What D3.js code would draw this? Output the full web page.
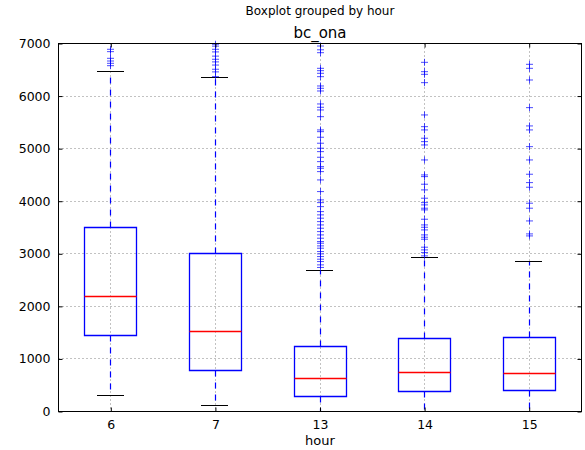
<!DOCTYPE html>
<html>
<head>
<meta charset="utf-8">
<script src="https://cdn.jsdelivr.net/npm/d3@7"></script>
<style>
  html, body { margin: 0; padding: 0; background: #fff; }
  svg { display: block; }
  text { font-family: "DejaVu Sans", sans-serif; fill: #000; }
</style>
</head>
<body>
<svg id="chart" width="585" height="450"></svg>
<script>
// Groups (hour of day)
const hours = ["6", "7", "13", "14", "15"];

// Box statistics per hour
const whiskerLow  = [298, 108, 0, 0, 0];
const q1          = [1452, 787, 279, 372, 396];
const medians     = [2186, 1521, 635, 749, 730];
const q3          = [3506, 3002, 1230, 1388, 1407];
const whiskerHigh = [6458, 6350, 2681, 2922, 2852];

// Outliers above the upper whisker, per hour
const fliers6  = [6890, 6845, 6718, 6667, 6623, 6578];
const fliers7  = [6986, 6950, 6890, 6840, 6760, 6700, 6650, 6590, 6510, 6460, 6370];
const fliers13 = [6952, 6880, 6825, 6528, 6483, 6433, 6369, 6192, 6148, 6097, 5850, 5787, 5736, 5608,
                  5356, 5323, 5217, 5103, 5008, 4943, 4836, 4753, 4658, 4627, 4563, 4405, 4183, 4025,
                  3973, 3897, 3802, 3740, 3677, 3612, 3549, 3486, 3422, 3359, 3296, 3232, 3201, 3150,
                  3106, 3042, 2998, 2947, 2897, 2852, 2789, 2740];
const fliers14 = [6642, 6464, 6414, 6255, 5641, 5418, 5356, 5198, 5133, 5070, 4785, 4500, 4468, 4323,
                  4215, 4057, 3973, 3930, 3867, 3835, 3657, 3549, 3505, 3454, 3359, 3315, 3277, 3125,
                  3074, 3023, 2960];
const fliers15 = [6604, 6528, 6306, 5780, 5432, 5356, 5038, 4785, 4513, 4354, 4266, 3962, 3867, 3625,
                  3378, 3340];
const fliers = [fliers6, fliers7, fliers13, fliers14, fliers15];

const yTicks = [0, 1000, 2000, 3000, 4000, 5000, 6000, 7000];

const svg = d3.select("#chart");
const m = { left: 58.5, top: 43.5, right: 581.5, bottom: 411.5 };
const W = m.right - m.left, H = m.bottom - m.top;

const x = d3.scaleLinear().domain([0.5, hours.length + 0.5]).range([m.left, m.right]);
const y = d3.scaleLinear().domain([0, 7000]).range([m.bottom, m.top]);
const unit = x(2) - x(1);
const boxW = Math.round(0.5 * unit), capW = Math.round(0.26 * unit);

// One record per hour, built from the arrays above
const stats = hours.map((h, i) => ({
  pos: i + 1, lo: whiskerLow[i], q1: q1[i], med: medians[i], q3: q3[i], hi: whiskerHigh[i]
}));
const flierPts = [];
stats.forEach((s, i) => fliers[i].forEach(v => flierPts.push({ pos: s.pos, v })));

const px = p => Math.floor(x(p)) + 0.5;
const py = v => Math.floor(y(v)) + 0.5;
const left = d => Math.floor(x(d.pos) - boxW / 2) + 0.5;

// Grid (dotted)
const grid = svg.append("g").attr("class", "grid")
  .attr("stroke", "#666").attr("stroke-width", 0.8).attr("stroke-dasharray", "1,3");
grid.selectAll("line.gy").data(yTicks).join("line").attr("class", "gy")
  .attr("x1", m.left).attr("x2", m.right)
  .attr("y1", d => py(d)).attr("y2", d => py(d));
grid.selectAll("line.gx").data(stats).join("line").attr("class", "gx")
  .attr("y1", m.top).attr("y2", m.bottom)
  .attr("x1", d => px(d.pos)).attr("x2", d => px(d.pos));

// Whiskers (dashed blue), drawn outward from the box edges
svg.append("g").attr("class", "whiskers")
  .selectAll("path").data(stats).join("path")
  .attr("d", d => `M${px(d.pos)},${py(d.q1)}V${py(d.lo)}M${px(d.pos)},${py(d.q3)}V${py(d.hi)}`)
  .attr("fill", "none").attr("stroke", "#0000ff").attr("stroke-width", 1.2)
  .attr("stroke-dasharray", "6,6");

// Caps (black)
svg.append("g").attr("class", "caps")
  .selectAll("path").data(stats).join("path")
  .attr("d", d => {
    const a = Math.floor(x(d.pos) - capW / 2);
    return `M${a},${py(d.lo)}h${capW}M${a},${py(d.hi)}h${capW}`;
  })
  .attr("fill", "none").attr("stroke", "#000").attr("stroke-width", 1.2);

// Boxes (blue outline)
svg.append("g").attr("class", "boxes")
  .selectAll("path").data(stats).join("path")
  .attr("d", d => `M${left(d)},${py(d.q3)}h${boxW}V${py(d.q1)}h${-boxW}Z`)
  .attr("fill", "none").attr("stroke", "#0000ff").attr("stroke-width", 1.3);

// Medians (red)
svg.append("g").attr("class", "medians")
  .selectAll("path").data(stats).join("path")
  .attr("d", d => `M${left(d)},${py(d.med)}h${boxW}`)
  .attr("fill", "none").attr("stroke", "#ff0000").attr("stroke-width", 1.3);

// Outlier markers (+)
svg.append("g").attr("class", "fliers")
  .selectAll("path").data(flierPts).join("path")
  .attr("d", d => {
    const cx = px(d.pos), cy = y(d.v);
    return `M${cx - 3.5},${cy}H${cx + 3.5}M${cx},${cy - 3.5}V${cy + 3.5}`;
  })
  .attr("fill", "none").attr("stroke", "#0000ff").attr("stroke-width", 1).attr("opacity", 0.7);

// Axes with inward ticks on all four sides
const posList = stats.map(d => d.pos);
const gy = svg.append("g").attr("transform", `translate(${m.left},0)`)
  .call(d3.axisLeft(y).tickValues(yTicks).tickSizeInner(-4).tickSizeOuter(0).tickPadding(8)
    .tickFormat(d3.format("d")));
const gx = svg.append("g").attr("transform", `translate(0,${m.bottom})`)
  .call(d3.axisBottom(x).tickValues(posList).tickSizeInner(-4).tickSizeOuter(0).tickPadding(9)
    .tickFormat((d, i) => hours[i]));
const gyR = svg.append("g").attr("transform", `translate(${m.right},0)`)
  .call(d3.axisRight(y).tickValues(yTicks).tickSizeInner(-4).tickSizeOuter(0).tickFormat(""));
const gxT = svg.append("g").attr("transform", `translate(0,${m.top})`)
  .call(d3.axisTop(x).tickValues(posList).tickSizeInner(-4).tickSizeOuter(0).tickFormat(""));

[gy, gx, gyR, gxT].forEach(g => {
  g.select(".domain").remove();
  g.selectAll(".tick line").attr("stroke", "#000").attr("stroke-width", 1);
  g.selectAll("text").attr("font-size", "12.5px").attr("fill", "#000")
    .style("font-family", "'DejaVu Sans', sans-serif");
});

// Frame
svg.append("rect").attr("x", m.left).attr("y", m.top).attr("width", W).attr("height", H)
  .attr("fill", "none").attr("stroke", "#000").attr("stroke-width", 1);

// Titles
const cxAxes = (m.left + m.right) / 2;
svg.append("text").attr("x", cxAxes).attr("y", 15).attr("text-anchor", "middle")
  .attr("font-size", "12px").text("Boxplot grouped by hour");
svg.append("text").attr("x", cxAxes).attr("y", 38).attr("text-anchor", "middle")
  .attr("font-size", "15px").text("bc_ona");
svg.append("text").attr("x", cxAxes).attr("y", 445).attr("text-anchor", "middle")
  .attr("font-size", "13px").text("hour");
</script>
</body>
</html>
